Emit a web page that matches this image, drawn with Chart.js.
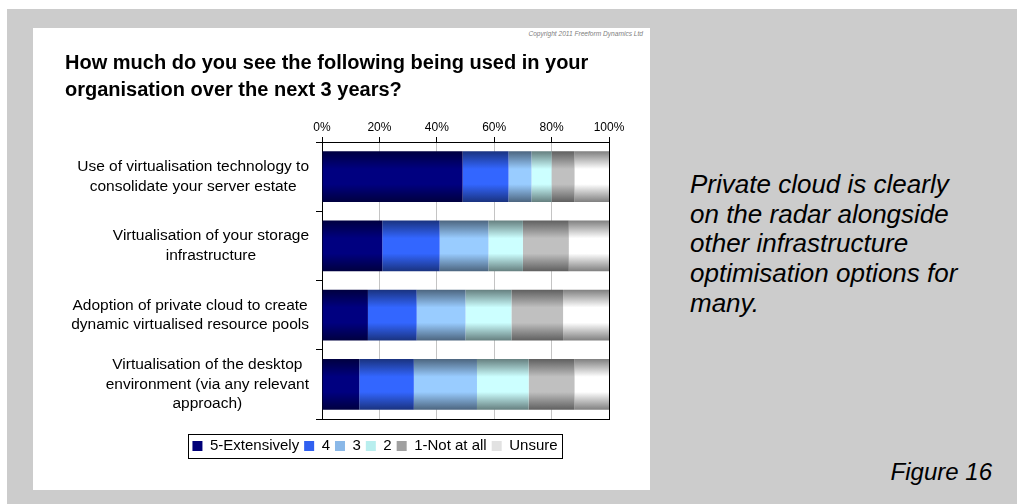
<!DOCTYPE html>
<html>
<head>
<meta charset="utf-8">
<script src="https://cdn.jsdelivr.net/npm/chart.js@4.4.1/dist/chart.umd.min.js"></script>
<style>
  html, body { margin: 0; padding: 0; background: #fff; }
  body { width: 1017px; height: 504px; position: relative; overflow: hidden;
         font-family: "Liberation Sans", Arial, sans-serif; }
  #bg { position: absolute; left: 7px; top: 9px; right: 0; bottom: 0; background: #cccccc; }
  #panel { position: absolute; left: 33px; top: 28px; width: 617px; height: 462px; background: #fff; }
  #copy { position: absolute; right: 374px; top: 30px; font-size: 6.6px; font-style: italic; color: #808080; white-space: nowrap; }
  #wrap { position: absolute; left: 33px; top: 28px; width: 652px; height: 462px; }
  #note { position: absolute; left: 690px; top: 170px; font-size: 26px; line-height: 29.7px; font-style: italic; color: #000; }
  #fig { position: absolute; right: 25px; top: 458px; font-size: 24px; line-height: 27.6px; font-style: italic; color: #000; }
</style>
</head>
<body>
<div id="bg"></div>
<div id="panel"></div>
<div id="copy">Copyright 2011 Freeform Dynamics Ltd</div>
<div id="wrap"><canvas id="myChart"></canvas></div>
<div id="note">Private cloud is clearly<br>on the radar alongside<br>other infrastructure<br>optimisation options for<br>many.</div>
<div id="fig">Figure 16</div>
<script>
// survey question and answer categories
const questionTitle = ['How much do you see the following being used in your', 'organisation over the next 3 years?']
const categories = [
  ['Use of virtualisation technology to', 'consolidate your server estate'],
  ['Virtualisation of your storage', 'infrastructure'],
  ['Adoption of private cloud to create', 'dynamic virtualised resource pools'],
  ['Virtualisation of the desktop', 'environment (via any relevant', 'approach)']
]
const responses = ['5-Extensively', '4', '3', '2', '1-Not at all', 'Unsure']

// % of respondents per answer, one entry per category
const extensively = [49, 21, 16, 13]
const rated4 = [16, 20, 17, 19]
const rated3 = [8, 17, 17, 22]
const rated2 = [7, 12, 16, 18]
const notAtAll = [8, 16, 18, 16]
const unsure = [12, 14, 16, 12]

const tickValues = [0, 20, 40, 60, 80, 100]

// bar colours: centre of the bar and its darker top/bottom edge
const centreColours = ['#000080', '#3366ff', '#99ccff', '#ccffff', '#c0c0c0', '#ffffff']
const edgeColours = ['#000040', '#1a3380', '#4d6680', '#668080', '#606060', '#808080']
// flat swatches for the key
const keyColours = ['#000078', '#3060f0', '#8ab8e8', '#b8eeee', '#a0a0a0', '#e2e2e2']

const FONT = '"Liberation Sans", Arial, sans-serif'
const CAT_PCT = 0.73

Chart.defaults.font.family = FONT
Chart.defaults.color = '#000'

// shaded fill for each bar segment, like the old 3D-ish office gradients
function shade(ctx, i) {
  const chart = ctx.chart
  const y = chart.scales.y
  if (ctx.type !== 'data' || !y || !chart.chartArea) return keyColours[i]
  const mid = y.getPixelForValue(ctx.dataIndex)
  const half = (y.bottom - y.top) / categories.length * CAT_PCT / 2
  if (!Number.isFinite(mid) || !Number.isFinite(half) || half <= 0) return keyColours[i]
  const g = chart.ctx.createLinearGradient(0, mid - half, 0, mid + half)
  g.addColorStop(0, edgeColours[i])
  g.addColorStop(0.35, centreColours[i])
  g.addColorStop(0.65, centreColours[i])
  g.addColorStop(1, edgeColours[i])
  return g
}

// category labels: each block right aligned, lines centred inside it
const categoryLabels = {
  id: 'categoryLabels',
  afterDraw(chart) {
    const y = chart.scales.y
    const c = chart.ctx
    c.save()
    c.font = '15.5px ' + FONT
    c.fillStyle = '#000'
    c.textAlign = 'center'
    c.textBaseline = 'middle'
    categories.forEach((lines, i) => {
      const widest = Math.max(...lines.map(l => c.measureText(l).width))
      const cx = y.right - 13 - widest / 2
      const cy = y.getPixelForValue(i)
      lines.forEach((line, k) => {
        c.fillText(line, cx, cy + (k - (lines.length - 1) / 2) * 19.5)
      })
    })
    c.restore()
  }
}

// thin black frame round the legend
const legendFrame = {
  id: 'legendFrame',
  afterDraw(chart) {
    const boxes = chart.legend.legendHitBoxes
    if (!boxes.length) return
    const left = Math.min(...boxes.map(b => b.left)) - 4
    const right = Math.max(...boxes.map(b => b.left + b.width)) + 5
    const mid = boxes[0].top + boxes[0].height / 2
    const c = chart.ctx
    c.save()
    c.strokeStyle = '#000'
    c.lineWidth = 1
    c.strokeRect(Math.round(left) + 0.5, Math.round(mid - 12) + 0.5, Math.round(right - left), 24)
    c.restore()
  }
}

const values = [extensively, rated4, rated3, rated2, notAtAll, unsure]

function updateGraph() {
  const ctx = document.getElementById('myChart').getContext('2d')
  new Chart(ctx, {
    type: 'bar',
    data: {
      labels: categories,
      datasets: responses.map((name, i) => ({
        label: name,
        data: values[i],
        backgroundColor: c => shade(c, i),
        borderWidth: 0,
        barPercentage: 1,
        categoryPercentage: CAT_PCT
      }))
    },
    options: {
      indexAxis: 'y',
      responsive: true,
      maintainAspectRatio: false,
      animation: false,
      layout: { padding: { left: 32, top: 0, right: 0, bottom: 26.5 } },
      plugins: {
        tooltip: { enabled: false },
        title: {
          display: true,
          text: questionTitle,
          align: 'start',
          color: '#000',
          font: { size: 20, weight: 'bold', lineHeight: 1.35 },
          padding: { top: 22, bottom: 14.6 }
        },
        legend: {
          position: 'bottom',
          labels: {
            boxWidth: 10,
            boxHeight: 10,
            padding: 5,
            color: '#000',
            font: { size: 15 },
            generateLabels: chart => Chart.defaults.plugins.legend.labels.generateLabels(chart)
              .map((item, i) => ({ ...item, fillStyle: keyColours[i], strokeStyle: keyColours[i], lineWidth: 0 }))
          }
        }
      },
      scales: {
        x: {
          stacked: true,
          position: 'top',
          min: 0,
          max: 100,
          afterBuildTicks: s => { s.ticks = tickValues.map(v => ({ value: v })) },
          ticks: { callback: v => v + '%', font: { size: 12 }, color: '#000', padding: 2 },
          grid: { color: '#c4c4c4', tickColor: '#000', tickLength: 5 },
          border: { color: '#000' }
        },
        y: {
          stacked: true,
          afterFit: s => { s.width = 257 },
          ticks: { display: false },
          grid: { drawOnChartArea: false, tickColor: '#000', tickLength: 6 },
          border: { color: '#000' }
        },
        // right edge of the plot frame, also leaves room so the key sits centred
        edge: {
          type: 'linear',
          axis: 'y',
          position: 'right',
          ticks: { display: false },
          grid: { drawOnChartArea: false, drawTicks: false },
          border: { color: '#000' },
          afterFit: s => { s.width = 76 }
        },
        // bottom edge of the plot frame and gap above the key
        base: {
          type: 'linear',
          axis: 'x',
          position: 'bottom',
          ticks: { display: false },
          grid: { drawOnChartArea: false, drawTicks: false },
          border: { color: '#000' },
          afterFit: s => { s.height = 14.5 }
        }
      }
    },
    plugins: [categoryLabels, legendFrame]
  })
}

updateGraph()
</script>
</body>
</html>
